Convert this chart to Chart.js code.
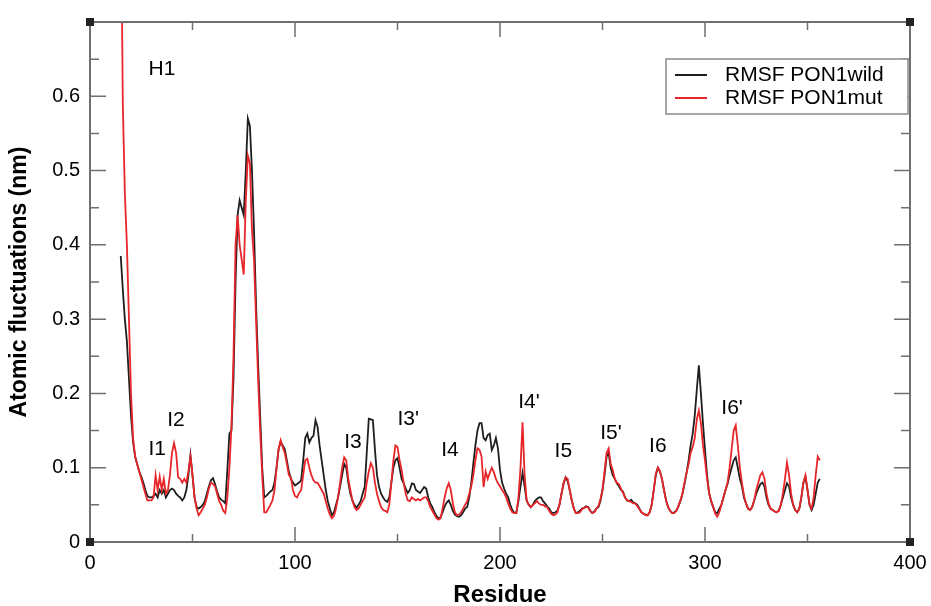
<!DOCTYPE html>
<html>
<head>
<meta charset="utf-8">
<script src="https://cdn.jsdelivr.net/npm/chart.js@4/dist/chart.umd.min.js"></script>
<style>
  html, body { margin: 0; padding: 0; background: #fff; }
  #wrap { width: 931px; height: 606px; position: relative; }
</style>
</head>
<body>
<div id="wrap"><canvas id="rmsfChart"></canvas></div>
<script>
// First residue of the series, values follow one per residue
const firstResidue = 15;

// RMSF PON1wild (nm)
const rmsfWild = [
    0.385, 0.34, 0.30, 0.27, 0.22, 0.17, 0.135, 0.115, 0.105, 0.095,
    0.088, 0.08, 0.07, 0.062, 0.06, 0.06, 0.062, 0.065, 0.06, 0.07,
    0.065, 0.07, 0.06, 0.065, 0.07, 0.072, 0.07, 0.065, 0.062, 0.06,
    0.056, 0.06, 0.07, 0.09, 0.117, 0.09, 0.06, 0.047, 0.045, 0.047,
    0.05, 0.055, 0.065, 0.075, 0.083, 0.086, 0.078, 0.068, 0.06, 0.057,
    0.055, 0.052, 0.097, 0.146, 0.15, 0.22, 0.35, 0.44, 0.46, 0.45,
    0.44, 0.50, 0.57, 0.56, 0.50, 0.42, 0.32, 0.24, 0.17, 0.10,
    0.06, 0.062, 0.065, 0.068, 0.07, 0.08, 0.10, 0.125, 0.135, 0.13,
    0.125, 0.11, 0.095, 0.085, 0.08, 0.076, 0.078, 0.08, 0.083, 0.11,
    0.14, 0.146, 0.134, 0.14, 0.143, 0.164, 0.155, 0.13, 0.11, 0.09,
    0.07, 0.055, 0.045, 0.036, 0.04, 0.05, 0.06, 0.075, 0.09, 0.105,
    0.10, 0.08, 0.065, 0.056, 0.05, 0.046, 0.05, 0.055, 0.065, 0.074,
    0.12, 0.166, 0.165, 0.164, 0.124, 0.09, 0.074, 0.065, 0.06, 0.056,
    0.054, 0.06, 0.08, 0.10, 0.11, 0.113, 0.10, 0.085, 0.079, 0.072,
    0.066, 0.07, 0.079, 0.078, 0.07, 0.068, 0.066, 0.07, 0.074, 0.072,
    0.06, 0.052, 0.047, 0.04, 0.035, 0.032, 0.033, 0.04, 0.048, 0.053,
    0.056, 0.05, 0.042, 0.037, 0.035, 0.034, 0.036, 0.04, 0.045, 0.047,
    0.06, 0.08, 0.106, 0.13, 0.15, 0.16, 0.16, 0.14, 0.137, 0.144,
    0.146, 0.124, 0.13, 0.14, 0.126, 0.097, 0.08, 0.072, 0.065, 0.06,
    0.05, 0.043, 0.039, 0.04, 0.055, 0.075, 0.093, 0.075, 0.056, 0.05,
    0.047, 0.05, 0.055, 0.058, 0.06, 0.06, 0.055, 0.052, 0.048, 0.045,
    0.04, 0.039, 0.04, 0.042, 0.05, 0.065, 0.078, 0.087, 0.082, 0.07,
    0.056, 0.045, 0.039, 0.04, 0.042, 0.045, 0.046, 0.048, 0.047, 0.042,
    0.039, 0.041, 0.045, 0.047, 0.055, 0.07, 0.09, 0.115, 0.12, 0.10,
    0.09, 0.085, 0.079, 0.075, 0.07, 0.068, 0.06, 0.056, 0.055, 0.057,
    0.053, 0.052, 0.05, 0.045, 0.04, 0.038, 0.037, 0.036, 0.04, 0.05,
    0.07, 0.09, 0.10, 0.095, 0.085, 0.07, 0.056, 0.047, 0.042, 0.039,
    0.04, 0.042, 0.048, 0.055, 0.065, 0.078, 0.093, 0.11, 0.13, 0.146,
    0.17, 0.205, 0.238, 0.20, 0.16, 0.124, 0.09, 0.066, 0.055, 0.047,
    0.04, 0.039, 0.045, 0.05, 0.06, 0.07, 0.078, 0.09, 0.10, 0.11,
    0.114, 0.10, 0.085, 0.075, 0.06, 0.052, 0.045, 0.043, 0.047, 0.056,
    0.065, 0.072, 0.078, 0.08, 0.075, 0.06, 0.05, 0.045, 0.043, 0.041,
    0.04, 0.042, 0.05, 0.06, 0.07, 0.079, 0.075, 0.06, 0.05, 0.043,
    0.04, 0.045, 0.06, 0.08, 0.088, 0.07, 0.05, 0.043, 0.05, 0.065,
    0.08, 0.085
];

// RMSF PON1mut (nm)
const rmsfMut = [
    0.90, 0.59, 0.47, 0.40, 0.30, 0.20, 0.14, 0.115, 0.105, 0.095,
    0.085, 0.075, 0.065, 0.056, 0.056, 0.056, 0.06, 0.09, 0.07, 0.088,
    0.07, 0.085, 0.065, 0.07, 0.09, 0.12, 0.133, 0.12, 0.087, 0.085,
    0.08, 0.085, 0.08, 0.095, 0.115, 0.09, 0.06, 0.045, 0.036, 0.04,
    0.045, 0.05, 0.06, 0.072, 0.08, 0.078, 0.075, 0.065, 0.055, 0.05,
    0.042, 0.039, 0.06, 0.10, 0.155, 0.25, 0.40, 0.44, 0.40, 0.38,
    0.36, 0.46, 0.52, 0.51, 0.42, 0.38, 0.30, 0.22, 0.15, 0.09,
    0.04, 0.04, 0.045, 0.05, 0.056, 0.07, 0.10, 0.125, 0.137, 0.128,
    0.12, 0.106, 0.09, 0.087, 0.07, 0.062, 0.06, 0.066, 0.07, 0.09,
    0.11, 0.112, 0.10, 0.09, 0.083, 0.08, 0.08, 0.075, 0.07, 0.065,
    0.055, 0.045, 0.037, 0.032, 0.035, 0.045, 0.06, 0.08, 0.10, 0.114,
    0.11, 0.085, 0.07, 0.056, 0.047, 0.043, 0.045, 0.05, 0.055, 0.06,
    0.08, 0.095, 0.106, 0.10, 0.08, 0.065, 0.055, 0.047, 0.043, 0.042,
    0.04, 0.05, 0.08, 0.11, 0.13, 0.128, 0.11, 0.097, 0.08, 0.065,
    0.056, 0.055, 0.06, 0.058, 0.056, 0.058, 0.056, 0.058, 0.06, 0.06,
    0.055, 0.047, 0.042, 0.037, 0.032, 0.03, 0.032, 0.045, 0.06, 0.072,
    0.079, 0.07, 0.052, 0.04, 0.036, 0.037, 0.04, 0.045, 0.05, 0.055,
    0.065, 0.075, 0.09, 0.11, 0.126, 0.124, 0.115, 0.074, 0.095, 0.085,
    0.093, 0.10, 0.094, 0.085, 0.079, 0.075, 0.07, 0.066, 0.06, 0.052,
    0.045, 0.04, 0.039, 0.039, 0.06, 0.10, 0.161, 0.09, 0.056, 0.05,
    0.047, 0.05, 0.052, 0.055, 0.052, 0.05, 0.05, 0.048, 0.047, 0.042,
    0.038, 0.036, 0.037, 0.04, 0.05, 0.065, 0.08, 0.087, 0.085, 0.07,
    0.056, 0.045, 0.039, 0.039, 0.04, 0.044, 0.046, 0.047, 0.047, 0.042,
    0.039, 0.04, 0.045, 0.048, 0.058, 0.07, 0.095, 0.12, 0.126, 0.105,
    0.097, 0.085, 0.08, 0.078, 0.072, 0.066, 0.06, 0.056, 0.055, 0.054,
    0.052, 0.052, 0.048, 0.044, 0.04, 0.038, 0.036, 0.036, 0.04, 0.05,
    0.07, 0.092, 0.10, 0.095, 0.085, 0.07, 0.056, 0.047, 0.042, 0.039,
    0.039, 0.042, 0.048, 0.056, 0.065, 0.08, 0.093, 0.105, 0.12, 0.128,
    0.14, 0.165, 0.177, 0.16, 0.13, 0.11, 0.085, 0.066, 0.055, 0.047,
    0.038, 0.034, 0.04, 0.05, 0.06, 0.07, 0.08, 0.10, 0.125, 0.15,
    0.157, 0.13, 0.10, 0.08, 0.063, 0.052, 0.045, 0.043, 0.047, 0.056,
    0.07, 0.08, 0.09, 0.094, 0.085, 0.065, 0.052, 0.045, 0.043, 0.041,
    0.04, 0.042, 0.05, 0.065, 0.085, 0.107, 0.09, 0.065, 0.05, 0.043,
    0.04, 0.045, 0.06, 0.08, 0.09, 0.07, 0.05, 0.045, 0.06, 0.09,
    0.115, 0.11
];

// Region labels: text, residue, value
const regionText = ['H1', 'I1', 'I2', 'I3', "I3'", 'I4', "I4'", 'I5', "I5'", 'I6', "I6'"];
const regionResidue = [35.1, 32.8, 41.9, 128.3, 155.2, 175.6, 214.1, 230.9, 254.1, 277, 313.2];
const regionValue = [0.636, 0.125, 0.164, 0.135, 0.165, 0.123, 0.188, 0.122, 0.146, 0.129, 0.18];

// Axis ticks
const xMajorTicks = [0, 100, 200, 300, 400];
const xMinorTicks = [50, 150, 250, 350];
const yMajorTicks = [0, 0.1, 0.2, 0.3, 0.4, 0.5, 0.6];
const yMinorTicks = [0.05, 0.15, 0.25, 0.35, 0.45, 0.55, 0.65];

const FONT = "'Liberation Sans', Arial, Helvetica, sans-serif";
const frameColor = '#6f6f6f';
const wildColor = '#1e1e1e';
const mutColor = '#e8262a';

function toPoints(values) {
    return values.map((v, i) => ({ x: firstResidue + i, y: v }));
}

// Frame with inward ticks on all four sides
const framePlugin = {
    id: 'frame',
    afterDatasetsDraw(chart) {
        const { ctx, chartArea: a, scales } = chart;
        ctx.save();
        ctx.strokeStyle = frameColor;
        ctx.lineWidth = 1.5;
        const tick = (list, len) => {
            list.forEach(v => {
                const px = scales.x.getPixelForValue(v);
                ctx.beginPath();
                ctx.moveTo(px, a.bottom); ctx.lineTo(px, a.bottom - len);
                ctx.moveTo(px, a.top); ctx.lineTo(px, a.top + len);
                ctx.stroke();
            });
        };
        const ytick = (list, len) => {
            list.forEach(v => {
                const py = scales.y.getPixelForValue(v);
                ctx.beginPath();
                ctx.moveTo(a.left, py); ctx.lineTo(a.left + len, py);
                ctx.moveTo(a.right, py); ctx.lineTo(a.right - len, py);
                ctx.stroke();
            });
        };
        tick(xMajorTicks, 15);
        tick(xMinorTicks, 8);
        ytick(yMajorTicks, 16);
        ytick(yMinorTicks, 9);
        ctx.lineWidth = 2;
        ctx.strokeRect(a.left, a.top, a.right - a.left, a.bottom - a.top);
        // little corner squares
        ctx.fillStyle = '#222';
        [[a.left, a.top], [a.right, a.top], [a.left, a.bottom], [a.right, a.bottom]].forEach(([cx, cy]) => {
            ctx.fillRect(cx - 4, cy - 4, 8, 8);
        });
        ctx.restore();
    }
};

// Text labels for the loops
const regionPlugin = {
    id: 'regions',
    afterDatasetsDraw(chart) {
        const { ctx, scales } = chart;
        ctx.save();
        ctx.fillStyle = '#000';
        ctx.font = '21px ' + FONT;
        ctx.textAlign = 'center';
        ctx.textBaseline = 'middle';
        regionText.forEach((t, i) => {
            ctx.fillText(t, scales.x.getPixelForValue(regionResidue[i]), scales.y.getPixelForValue(regionValue[i]));
        });
        ctx.restore();
    }
};

// Boxed legend in the upper right of the plot
const legendPlugin = {
    id: 'boxLegend',
    afterDraw(chart) {
        const { ctx, chartArea: a } = chart;
        const right = a.right - 2, top = a.top + 37;
        const w = 242, h = 55;
        const left = right - w;
        ctx.save();
        ctx.fillStyle = '#fff';
        ctx.fillRect(left, top, w, h);
        ctx.strokeStyle = '#8a8a8a';
        ctx.lineWidth = 1.5;
        ctx.strokeRect(left, top, w, h);
        ctx.font = '21px ' + FONT;
        ctx.textBaseline = 'middle';
        chart.data.datasets.slice().reverse().forEach((ds, i) => {
            const y = top + 16 + i * 23;
            ctx.strokeStyle = ds.borderColor;
            ctx.lineWidth = 2;
            ctx.beginPath();
            ctx.moveTo(left + 9, y); ctx.lineTo(left + 41, y);
            ctx.stroke();
            ctx.fillStyle = '#000';
            ctx.fillText(ds.label, left + 59, y);
        });
        ctx.restore();
    }
};

const chart = new Chart(document.getElementById('rmsfChart').getContext('2d'), {
    type: 'line',
    data: {
        datasets: [{
            label: 'RMSF PON1mut',
            data: toPoints(rmsfMut),
            borderColor: mutColor,
            borderWidth: 1.8,
            pointRadius: 0,
            tension: 0,
            fill: false,
            order: 1
        }, {
            label: 'RMSF PON1wild',
            data: toPoints(rmsfWild),
            borderColor: wildColor,
            borderWidth: 1.8,
            pointRadius: 0,
            tension: 0,
            fill: false,
            order: 2
        }]
    },
    options: {
        responsive: true,
        maintainAspectRatio: false,
        animation: false,
        layout: { padding: { top: 20, right: 21, left: 0, bottom: 0 } },
        plugins: {
            legend: { display: false },
            tooltip: { enabled: false }
        },
        scales: {
            x: {
                type: 'linear',
                min: 0,
                max: 400,
                afterFit: s => { s.height = 64; s.paddingLeft = 0; s.paddingRight = 0; },
                afterBuildTicks: s => { s.ticks = xMajorTicks.map(v => ({ value: v })); },
                grid: { display: false, drawTicks: false },
                border: { display: false },
                ticks: {
                    color: '#000',
                    padding: 9,
                    font: { family: FONT, size: 20 }
                },
                title: {
                    display: true,
                    text: 'Residue',
                    color: '#000',
                    padding: { top: 0, bottom: -4 },
                    font: { family: FONT, size: 24, weight: 'bold' }
                }
            },
            y: {
                type: 'linear',
                min: 0,
                max: 0.7,
                afterFit: s => { s.width = 90; },
                afterBuildTicks: s => { s.ticks = yMajorTicks.map(v => ({ value: v })); },
                grid: { display: false, drawTicks: false },
                border: { display: false },
                ticks: {
                    color: '#000',
                    padding: 10,
                    font: { family: FONT, size: 20 },
                    callback: v => String(v)
                },
                title: {
                    display: true,
                    text: 'Atomic fluctuations (nm)',
                    color: '#000',
                    padding: { top: 6, bottom: 0 },
                    font: { family: FONT, size: 23, weight: 'bold' }
                }
            }
        }
    },
    plugins: [framePlugin, regionPlugin, legendPlugin]
});
</script>
</body>
</html>
